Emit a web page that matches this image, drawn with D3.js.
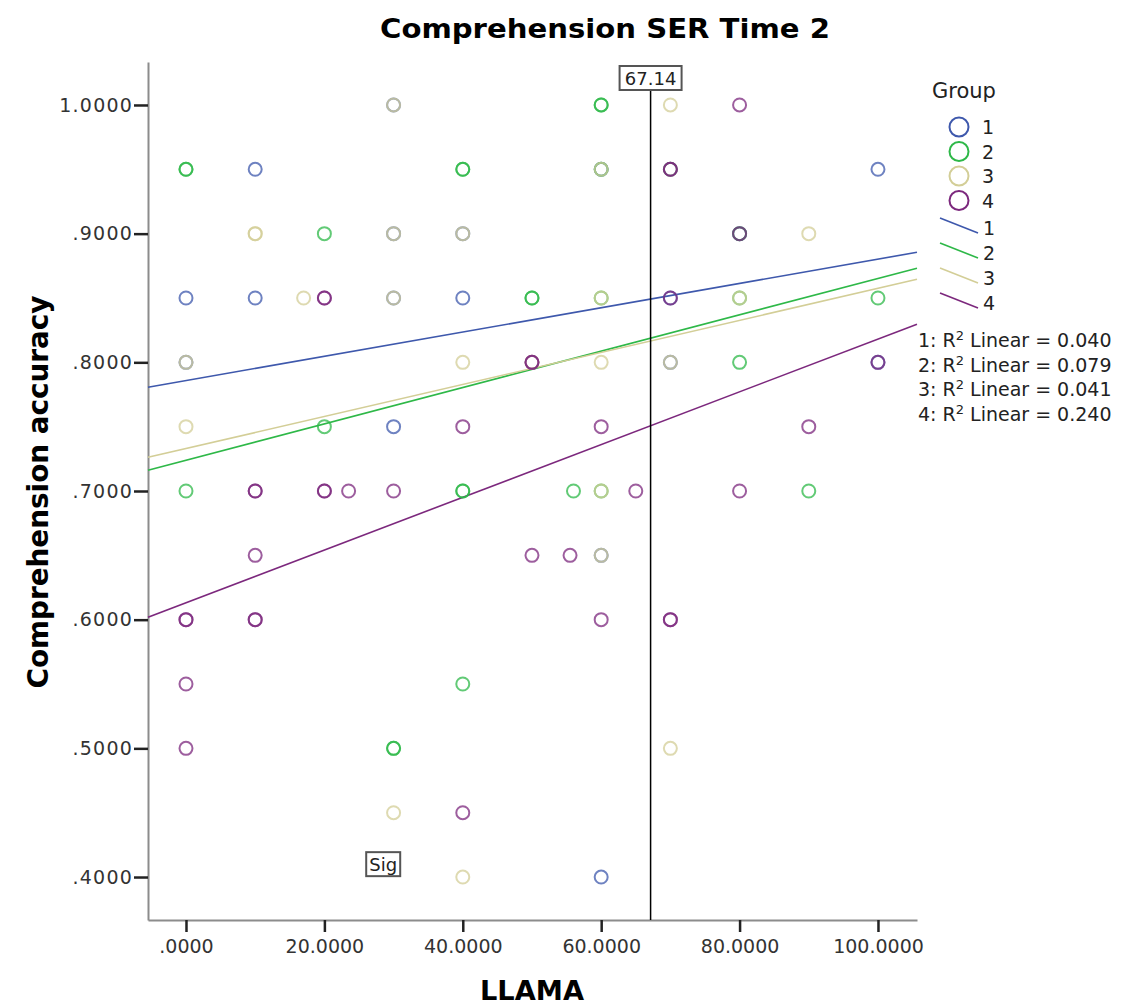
<!DOCTYPE html>
<html>
<head>
<meta charset="utf-8">
<script src="https://cdn.jsdelivr.net/npm/d3@7"></script>
<style>
  body { margin: 0; background: #fff; }
  text { font-family: "DejaVu Sans", sans-serif; }
  .axis .domain { stroke: #8c8c8c; stroke-width: 2; }
  .axis .tick line { stroke: #222; stroke-width: 2.5; }
  .axis text { fill: #333; font-size: 19px; }
</style>
</head>
<body>
<div id="chart"></div>
<script>
// groups and their colours (SPSS defaults)
var groups = ['1', '2', '3', '4'];
var colors = ['#3e58ac', '#2eb848', '#d3ce97', '#7c287d'];

// LLAMA score / comprehension accuracy per group
var group1 = [
    [0, 0.85], [10, 0.95], [10, 0.85], [30, 1.0], [30, 0.90], [30, 0.85], [30, 0.75],
    [0, 0.80], [40, 0.90], [40, 0.85], [60, 0.95], [60, 0.65], [60, 0.40],
    [70, 0.85], [70, 0.80], [80, 0.90], [100, 0.95], [100, 0.80]
];
var group2 = [
    [0, 0.95], [0, 0.95], [20, 0.90], [40, 0.95], [40, 0.95], [60, 1.0], [60, 1.0],
    [60, 0.95], [50, 0.85], [50, 0.85], [60, 0.85], [80, 0.85], [100, 0.85], [70, 0.95],
    [80, 0.80], [20, 0.75], [0, 0.70], [40, 0.70], [40, 0.70], [56, 0.70], [60, 0.70],
    [90, 0.70], [40, 0.55], [30, 0.50], [30, 0.50], [80, 0.90]
];
var group3 = [
    [30, 1.0], [70, 1.0], [10, 0.90], [10, 0.90], [30, 0.90], [40, 0.90], [90, 0.90],
    [17, 0.85], [30, 0.85], [60, 0.85], [80, 0.85], [0, 0.80], [40, 0.80], [60, 0.80],
    [70, 0.80], [0, 0.75], [60, 0.70], [60, 0.65], [70, 0.50], [30, 0.45], [40, 0.40],
    [60, 0.95], [50, 0.80]
];
var group4 = [
    [80, 1.0], [70, 0.95], [70, 0.95], [20, 0.85], [20, 0.85], [70, 0.85], [80, 0.90],
    [50, 0.80], [50, 0.80], [100, 0.80], [40, 0.75], [60, 0.75], [90, 0.75],
    [10, 0.70], [10, 0.70], [20, 0.70], [20, 0.70], [23.5, 0.70], [30, 0.70], [65, 0.70],
    [80, 0.70], [10, 0.65], [50, 0.65], [55.5, 0.65], [0, 0.60], [0, 0.60], [10, 0.60],
    [10, 0.60], [60, 0.60], [70, 0.60], [70, 0.60], [0, 0.55], [0, 0.50], [40, 0.45]
];

// fit lines: intercept and slope per group, plus R squared
var intercepts = [0.7858, 0.7239, 0.7330, 0.6131];
var slopes = [0.000944, 0.001413, 0.001245, 0.00205];
var rSquared = ['0.040', '0.079', '0.041', '0.240'];

var xTicks = [0, 20, 40, 60, 80, 100];
var yTicks = [0.4, 0.5, 0.6, 0.7, 0.8, 0.9, 1.0];
var refValue = 67.14;

var W = 1141, H = 1008;
var plotLeft = 148, plotRight = 917, plotTop = 62, plotBottom = 920;

var svg = d3.select('#chart').append('svg')
    .attr('width', W)
    .attr('height', H);

var x = d3.scaleLinear().domain([-5.49, 105.64]).range([plotLeft, plotRight]);
var y = d3.scaleLinear().domain([0.3666, 1.0334]).range([plotBottom, plotTop]);

var fmt = d3.format('.4f');
var trim = (d) => fmt(d).replace(/^0\./, '.');

// axes
svg.append('g')
    .attr('class', 'axis')
    .attr('transform', `translate(${plotLeft}, 0)`)
    .call(d3.axisLeft(y).tickValues(yTicks).tickFormat(trim).tickSize(14).tickSizeOuter(0).tickPadding(1))
    .selectAll('text').attr('letter-spacing', 1.2);

svg.append('g')
    .attr('class', 'axis')
    .attr('transform', `translate(0, ${plotBottom})`)
    .call(d3.axisBottom(x).tickValues(xTicks).tickFormat(trim).tickSize(12).tickSizeOuter(0).tickPadding(8));

// regression lines
var xr = x.domain();
groups.forEach(function (g, i) {
    svg.append('line')
        .attr('x1', x(xr[0]))
        .attr('y1', y(intercepts[i] + slopes[i] * xr[0]))
        .attr('x2', x(xr[1]))
        .attr('y2', y(intercepts[i] + slopes[i] * xr[1]))
        .attr('stroke', colors[i])
        .attr('stroke-width', 1.6);
});

// points
[group1, group2, group3, group4].forEach(function (pts, i) {
    svg.append('g').selectAll('circle')
        .data(pts)
        .enter()
        .append('circle')
        .attr('cx', (d) => x(d[0]))
        .attr('cy', (d) => y(d[1]))
        .attr('r', 6.5)
        .attr('fill', 'none')
        .attr('stroke', colors[i])
        .attr('stroke-opacity', 0.75)
        .attr('stroke-width', 2);
});

// reference line at 67.14
svg.append('line')
    .attr('x1', x(refValue)).attr('x2', x(refValue))
    .attr('y1', 90).attr('y2', plotBottom)
    .attr('stroke', '#000')
    .attr('stroke-width', 1.5);

function boxLabel(cx, cy, txt, w) {
    svg.append('rect')
        .attr('x', cx - w / 2).attr('y', cy - 12)
        .attr('width', w).attr('height', 24)
        .attr('fill', '#fff')
        .attr('stroke', '#555')
        .attr('stroke-width', 2);
    svg.append('text')
        .attr('x', cx).attr('y', cy + 7)
        .attr('text-anchor', 'middle')
        .attr('font-size', 18)
        .attr('fill', '#222')
        .text(txt);
}
boxLabel(x(refValue), 78, '67.14', 62);
boxLabel(x(28.5), y(0.41), 'Sig', 34);

// titles
svg.append('text')
    .attr('x', 605).attr('y', 38)
    .attr('text-anchor', 'middle')
    .attr('font-family', '"Open Sans", sans-serif')
    .attr('font-weight', 'bold')
    .attr('font-size', 26)
    .attr('textLength', 450)
    .attr('lengthAdjust', 'spacingAndGlyphs')
    .text('Comprehension SER Time 2');

svg.append('text')
    .attr('x', 532).attr('y', 1000)
    .attr('text-anchor', 'middle')
    .attr('font-family', '"Open Sans", sans-serif')
    .attr('font-weight', 'bold')
    .attr('font-size', 27)
    .attr('textLength', 104)
    .attr('lengthAdjust', 'spacingAndGlyphs')
    .text('LLAMA');

svg.append('text')
    .attr('transform', 'translate(48, 492) rotate(-90)')
    .attr('text-anchor', 'middle')
    .attr('font-family', '"Open Sans", sans-serif')
    .attr('font-weight', 'bold')
    .attr('font-size', 29)
    .attr('textLength', 393)
    .attr('lengthAdjust', 'spacingAndGlyphs')
    .text('Comprehension accuracy');

// legend
var legend = svg.append('g').attr('font-size', 19).attr('fill', '#222');
legend.append('text').attr('x', 932).attr('y', 98).attr('font-size', 21).text('Group');

groups.forEach(function (g, i) {
    var cy = 127 + i * 24.5;
    legend.append('circle')
        .attr('cx', 959).attr('cy', cy).attr('r', 9.5)
        .attr('fill', 'none').attr('stroke', colors[i]).attr('stroke-width', 2);
    legend.append('text').attr('x', 982).attr('y', cy + 7).text(g);

    var ly = 218 + i * 25;
    legend.append('line')
        .attr('x1', 940).attr('y1', ly)
        .attr('x2', 978).attr('y2', ly + 15)
        .attr('stroke', colors[i]).attr('stroke-width', 1.6);
    legend.append('text').attr('x', 983).attr('y', ly + 17).text(g);

    var t = legend.append('text').attr('x', 918).attr('y', 347 + i * 24.5);
    t.append('tspan').text(g + ': R');
    t.append('tspan').attr('dy', -7).attr('font-size', 13).text('2');
    t.append('tspan').attr('dy', 7).text(' Linear = ' + rSquared[i]);
});
</script>
</body>
</html>
